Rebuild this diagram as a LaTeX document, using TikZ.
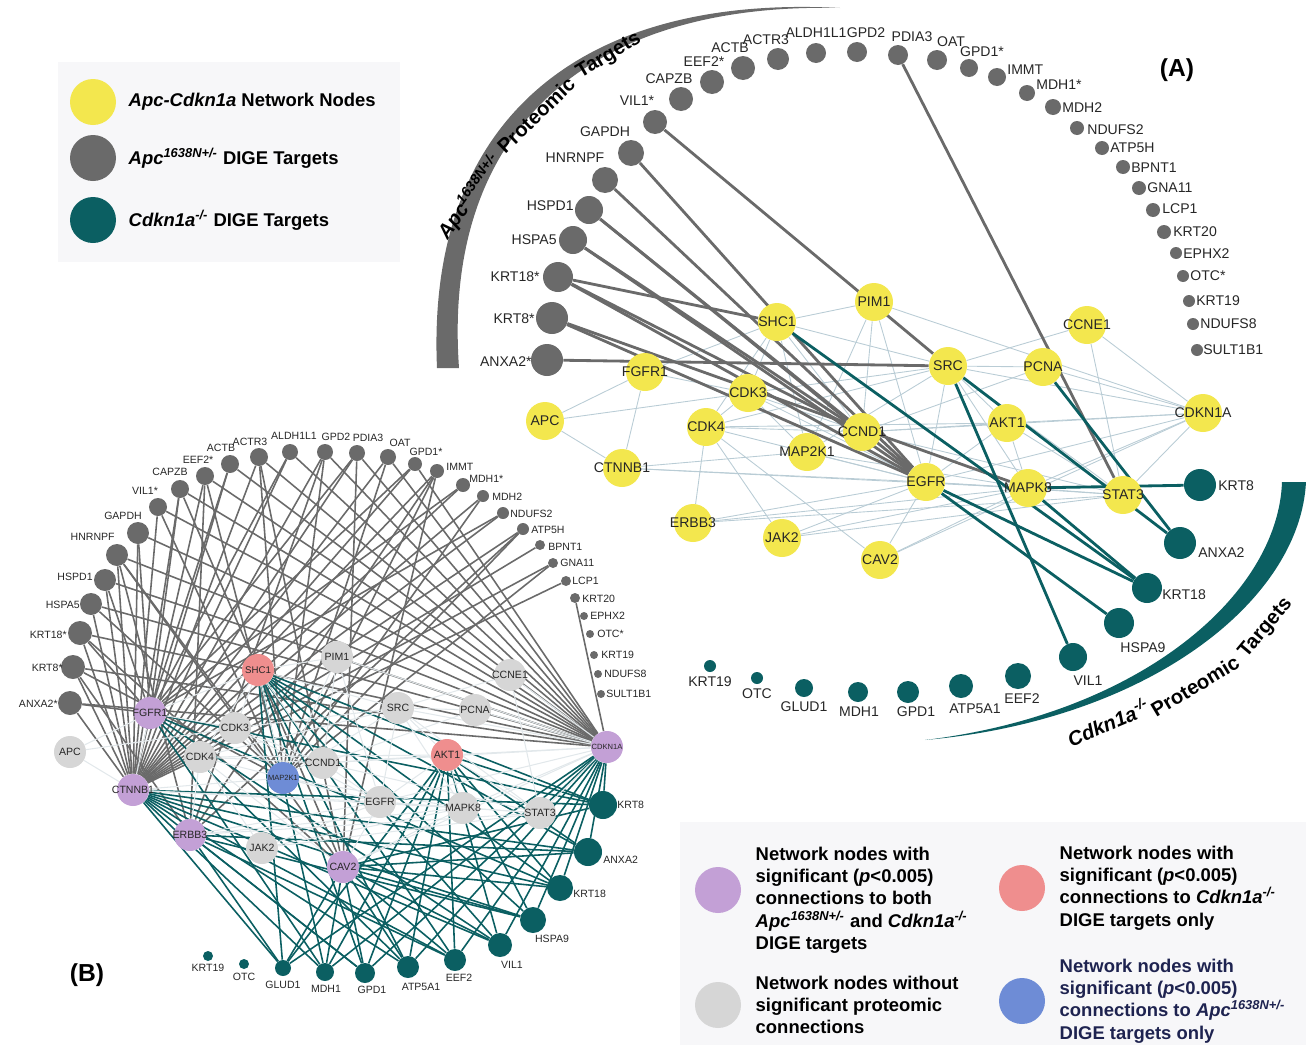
\documentclass[tikz,border=0pt]{standalone}
\usepackage{fontspec}
\setmainfont{Liberation Sans}
\usetikzlibrary{positioning}

\definecolor{netyellow}{HTML}{F3E74E}
\definecolor{tgtgray}{HTML}{6A6A6A}
\definecolor{tgtteal}{HTML}{0B5F62}
\definecolor{netedge}{HTML}{B9CCD5}
\definecolor{paleedge}{HTML}{E2E8EB}
\definecolor{nodepurple}{HTML}{C3A0D6}
\definecolor{nodepink}{HTML}{EF8E8E}
\definecolor{nodegray}{HTML}{D6D6D6}
\definecolor{nodeblue}{HTML}{6E8CD6}
\definecolor{panelbg}{HTML}{F7F7F9}
\definecolor{navytext}{HTML}{1E2350}

\pgfdeclarelayer{back}
\pgfdeclarelayer{edges}
\pgfsetlayers{back,edges,main}

\tikzset{
  blob/.style={circle, inner sep=0pt, minimum size={2*#1*0.02cm}},
  gdot/.style={blob=#1, fill=tgtgray},
  tdot/.style={blob=#1, fill=tgtteal},
  ynode/.style={blob=19, fill=netyellow},
  ylab/.style={font=\fontsize{8}{9}\selectfont, text=black!85, inner sep=0pt},
  glab/.style={font=\fontsize{8}{9}\selectfont, text=black!85, inner sep=0pt},
  blab/.style={font=\fontsize{6}{7}\selectfont, text=black!85, inner sep=0pt},
  gline/.style={draw=tgtgray, line width=1.6pt},
  tline/.style={draw=tgtteal, line width=1.6pt},
  nline/.style={draw=netedge, line width=0.5pt},
  gthin/.style={draw=tgtgray, line width=0.9pt},
  tthin/.style={draw=tgtteal, line width=0.9pt},
  bline/.style={draw=paleedge, line width=0.6pt},
  legtext/.style={font=\fontsize{10.5}{12}\selectfont\bfseries, inner sep=0pt},
  legnote/.style={font=\fontsize{10.5}{12.7}\selectfont\bfseries, align=left, inner sep=0pt},
  arctext/.style={font=\fontsize{11.5}{13}\selectfont\bfseries, inner sep=0pt},
  panellabel/.style={font=\fontsize{14}{16}\selectfont\bfseries, inner sep=0pt}
}

% network-to-network interactions, used in both panels
\newcommand{\netpairs}{SHC1/PIM1, SHC1/FGFR1, SHC1/CDK3, SHC1/CDK4, SHC1/SRC,
  SHC1/CCND1, SHC1/MAP2K1, PIM1/MAP2K1, PIM1/CDKN1A, PIM1/CCND1, SRC/CCNE1,
  SRC/PCNA, SRC/CDKN1A, SRC/AKT1, SRC/MAPK8, SRC/EGFR, SRC/CDK3, SRC/CDK4,
  SRC/STAT3, CCNE1/CDKN1A, CCNE1/STAT3, PCNA/CDKN1A, PCNA/CCND1, FGFR1/APC,
  FGFR1/CTNNB1, FGFR1/CDK3, APC/CTNNB1, APC/CDK3, CTNNB1/MAP2K1, CTNNB1/EGFR,
  CTNNB1/MAPK8, CDK4/CDK3, CDK4/ERBB3, CDK4/JAK2, CDK4/CAV2, CDK4/EGFR,
  CDK4/CCND1, CDK4/AKT1, CDK3/MAP2K1, CDK3/CCND1, CDK3/EGFR, CCND1/CDKN1A,
  CCND1/EGFR, CCND1/STAT3, CCND1/AKT1, MAP2K1/EGFR, MAP2K1/MAPK8, MAP2K1/SRC,
  ERBB3/EGFR, ERBB3/MAPK8, ERBB3/STAT3, JAK2/EGFR, JAK2/STAT3, JAK2/MAPK8,
  CAV2/EGFR, CAV2/CDKN1A, CAV2/MAPK8, EGFR/AKT1, EGFR/MAPK8, EGFR/STAT3,
  EGFR/CDKN1A, EGFR/PIM1, AKT1/CDKN1A, AKT1/MAPK8, AKT1/STAT3, MAPK8/STAT3,
  MAPK8/CDKN1A, STAT3/CDKN1A}

\begin{document}
\begin{tikzpicture}[x=0.02cm, y=-0.02cm]
  \useasboundingbox (0,0) rectangle (1306,1045);

  % Legend boxes
  \begin{pgfonlayer}{back}
    \fill[panelbg] (58,62) rectangle (400,262);
    \fill[panelbg] (680,822) rectangle (1306,1045);
  \end{pgfonlayer}

  % ---------------- Panel A ----------------
  % Proteomic target arcs
  \fill[tgtgray] (437,368) .. controls (426,120) and (580,-6) .. (840,8)
    .. controls (590,2) and (442,128) .. (459,368) -- cycle;
  \fill[tgtteal] (1306,482) .. controls (1300,600) and (1150,720) .. (925,740)
    .. controls (1140,714) and (1278,595) .. (1282,482) -- cycle;
  \node[arctext, rotate=55] (arcA1) at (470,197) {\textit{Apc}\textsuperscript{\itshape 1638N+/-}};
  \node[arctext, rotate=44] (arcA2) at (536,115) {Proteomic};
  \node[arctext, rotate=31] (arcA3) at (609,56) {Targets};
  \node[arctext, rotate=23] (arcA4) at (1108,722) {\textit{Cdkn1a}\textsuperscript{\itshape -/-}};
  \node[arctext, rotate=31] (arcA5) at (1195,686) {Proteomic};
  \node[arctext, rotate=50] (arcA6) at (1266,628) {Targets};

  % Network nodes
  \foreach \n/\x/\y in {SHC1/777/322, PIM1/874/302, SRC/948/366, PCNA/1043/367,
      CCNE1/1087/325, FGFR1/645/372, CDK3/748/393, APC/545/421, CDK4/706/427,
      CCND1/862/432, MAP2K1/807/452, CTNNB1/622/468, EGFR/926/482, AKT1/1007/423,
      CDKN1A/1203/413, MAPK8/1028/488, STAT3/1123/495, ERBB3/693/523,
      JAK2/782/538, CAV2/880/560} {
    \node[ynode, label={[ylab]center:\n}] (a\n) at (\x,\y) {};
  }

  % Apc targets
  \foreach \i/\x/\y/\r in {1/547/360/16, 2/552/318/16, 3/558/277/15, 4/573/240/14,
      5/589/210/14, 6/605/180/13, 7/631/153/13, 8/655/122/12, 9/681/99/12,
      10/712/82/12, 11/743/68/12, 12/778/59/11, 13/816/53/10, 14/857/52/10,
      15/898/55/10, 16/937/60/10, 17/969/68/9, 18/997/77/9, 19/1027/93/8,
      20/1053/107/8, 21/1077/128/7, 22/1102/148/7, 23/1123/167/7, 24/1139/188/7,
      25/1153/210/7, 26/1164/232/7, 27/1176/253/6, 28/1183/276/6, 29/1189/301/6,
      30/1193/324/6, 31/1197/350/6} {
    \node[gdot=\r] (ga\i) at (\x,\y) {};
  }
  \foreach \i/\t/\x/\y/\a in {1/ANXA2*/532/362/east, 2/KRT8*/535/319/east,
      3/KRT18*/540/277/east, 4/HSPA5/557/240/east, 5/HSPD1/574/206/east,
      6/HNRNPF/575/158/center, 7/GAPDH/605/132/center, 8/VIL1*/637/101/center,
      9/CAPZB/669/79/center, 10/EEF2*/704/62/center, 11/ACTB/730/48/center,
      12/ACTR3/766/40/center, 13/ALDH1L1/816/33/center, 14/GPD2/866/33/center,
      15/PDIA3/912/37/center, 16/OAT/951/42/center, 17/GPD1*/982/52/center,
      18/IMMT/1007/70/west, 19/MDH1*/1036/85/west, 20/MDH2/1062/108/west,
      21/NDUFS2/1087/130/west, 22/ATP5H/1110/148/west, 23/BPNT1/1131/168/west,
      24/GNA11/1147/188/west, 25/LCP1/1162/209/west, 26/KRT20/1173/232/west,
      27/EPHX2/1183/254/west, 28/OTC*/1190/276/west, 29/KRT19/1196/301/west,
      30/NDUFS8/1200/324/west, 31/SULT1B1/1203/350/west} {
    \node[glab, anchor=\a] (ga\i-t) at (\x,\y) {\t};
  }

  % Cdkn1a targets
  \foreach \i/\x/\y/\r in {1/1200/485/16, 2/1180/543/16, 3/1147/588/15,
      4/1119/623/15, 5/1073/657/14, 6/1018/676/13, 7/961/686/12, 8/908/692/11,
      9/858/692/10, 10/804/688/9, 11/757/678/6, 12/710/666/6} {
    \node[tdot=\r] (ta\i) at (\x,\y) {};
  }
  \foreach \i/\t/\x/\y/\a in {1/KRT8/1218/486/west, 2/ANXA2/1198/553/west,
      3/KRT18/1162/595/west, 4/HSPA9/1143/648/center, 5/VIL1/1088/681/center,
      6/EEF2/1022/699/center, 7/ATP5A1/975/709/center, 8/GPD1/916/712/center,
      9/MDH1/859/712/center, 10/GLUD1/804/707/center, 11/OTC/757/694/center,
      12/KRT19/710/682/center} {
    \node[glab, anchor=\a] (ta\i-t) at (\x,\y) {\t};
  }

  % Interactions
  \begin{pgfonlayer}{edges}
    \foreach \u/\v in \netpairs { \draw[nline] (a\u) -- (a\v); }
    \foreach \i/\n in {1/SRC, 2/MAPK8, 2/EGFR, 3/SHC1, 3/CCND1, 3/EGFR, 4/CCND1,
        4/EGFR, 5/CCND1, 5/EGFR, 6/EGFR, 7/EGFR, 8/SRC, 15/STAT3} {
      \draw[gline] (ga\i) -- (a\n);
    }
    \foreach \n/\i in {MAPK8/1, SRC/2, PCNA/2, SHC1/3, EGFR/3, MAPK8/3, EGFR/4, SRC/5} {
      \draw[tline] (a\n) -- (ta\i);
    }
  \end{pgfonlayer}

  \node[panellabel] (labA) at (1177,70) {(A)};

  % ---------------- Panel B ----------------
  \foreach \n/\x/\y/\c/\f in {SHC1/258/670/pink/5.5, PIM1/337/657/gray/6,
      CCNE1/510/675/gray/6, SRC/398/708/gray/6, PCNA/475/710/gray/6,
      FGFR1/150/713/purple/6, CDK3/235/728/gray/6, APC/70/752/gray/6,
      CDK4/200/757/gray/6, MAP2K1/283/778/blue/4.3, CCND1/323/763/gray/6,
      CTNNB1/133/790/purple/6, ERBB3/190/835/purple/6, JAK2/262/848/gray/6,
      CAV2/343/867/purple/6, AKT1/447/755/pink/6, CDKN1A/607/747/purple/4.3,
      EGFR/380/802/gray/6, MAPK8/463/808/gray/6, STAT3/540/813/gray/6} {
    \node[blob=16, fill=node\c, label={[blab, font=\fontsize{\f}{\f}\selectfont]center:\n}] (b\n) at (\x,\y) {};
  }

  \foreach \i/\x/\y/\r in {1/70/703/12, 2/73/667/12, 3/80/633/12, 4/91/604/11,
      5/105/580/11, 6/117/555/11, 7/138/533/11, 8/158/507/9, 9/180/489/9,
      10/205/476/9, 11/230/464/9, 12/259/457/9, 13/290/452/8, 14/325/452/8,
      15/357/453/8, 16/388/457/8, 17/415/464/7, 18/437/471/7, 19/463/485/7,
      20/483/496/6, 21/503/513/6, 22/523/529/6, 23/540/545/5, 24/553/563/5,
      25/566/581/5, 26/575/598/5, 27/584/616/4, 28/590/634/4, 29/594/655/4,
      30/598/674/4, 31/601/694/4} {
    \node[gdot=\r] (gb\i) at (\x,\y) {};
  }
  \foreach \i/\t/\x/\y/\a in {1/ANXA2*/58/704/east, 2/KRT8*/63/668/east,
      3/KRT18*/67/635/east, 4/HSPA5/80/605/east, 5/HSPD1/93/577/east,
      6/HNRNPF/115/537/east, 7/GAPDH/123/516/center, 8/VIL1*/145/491/center,
      9/CAPZB/170/472/center, 10/EEF2*/198/460/center, 11/ACTB/221/448/center,
      12/ACTR3/250/442/center, 13/ALDH1L1/294/436/center, 14/GPD2/336/437/center,
      15/PDIA3/368/438/center, 16/OAT/400/443/center, 17/GPD1*/426/452/center,
      18/IMMT/446/467/west, 19/MDH1*/469/479/west, 20/MDH2/492/497/west,
      21/NDUFS2/510/514/west, 22/ATP5H/531/530/west, 23/BPNT1/548/547/west,
      24/GNA11/560/563/west, 25/LCP1/572/581/west, 26/KRT20/582/599/west,
      27/EPHX2/590/616/west, 28/OTC*/597/634/west, 29/KRT19/601/655/west,
      30/NDUFS8/604/674/west, 31/SULT1B1/606/694/west} {
    \node[blab, anchor=\a] (gb\i-t) at (\x,\y) {\t};
  }

  \foreach \i/\x/\y/\r in {1/603/805/14, 2/588/852/14, 3/560/888/13, 4/533/920/13,
      5/500/945/12, 6/455/960/11, 7/408/967/11, 8/365/973/10, 9/325/972/9,
      10/283/968/8, 11/244/964/5, 12/208/956/5} {
    \node[tdot=\r] (tb\i) at (\x,\y) {};
  }
  \foreach \i/\t/\x/\y/\a in {1/KRT8/617/805/west, 2/ANXA2/603/860/west,
      3/KRT18/573/894/west, 4/HSPA9/552/939/center, 5/VIL1/512/965/center,
      6/EEF2/459/978/center, 7/ATP5A1/421/987/center, 8/GPD1/372/990/center,
      9/MDH1/326/989/center, 10/GLUD1/283/985/center, 11/OTC/244/977/center,
      12/KRT19/208/968/center} {
    \node[blab, anchor=\a] (tb\i-t) at (\x,\y) {\t};
  }

  % Significant connections
  \begin{pgfonlayer}{edges}
    \foreach \i in {1,...,25} { \draw[gthin] (gb\i) -- (bCTNNB1); }
    \foreach \i in {1,...,17,26} { \draw[gthin] (gb\i) -- (bCDKN1A); }
    \foreach \i in {1,3,...,21} { \draw[gthin] (gb\i) -- (bFGFR1); }
    \foreach \i in {2,4,...,24} { \draw[gthin] (gb\i) -- (bMAP2K1); }
    \foreach \i in {3,6,...,18} { \draw[gthin] (gb\i) -- (bCAV2); }
    \foreach \i in {2,6,...,22} { \draw[gthin] (gb\i) -- (bERBB3); }
    \foreach \i in {1,...,10} {
      \foreach \n in {SHC1, AKT1, CDKN1A, CTNNB1, CAV2} { \draw[tthin] (tb\i) -- (b\n); }
    }
    \foreach \i in {1,3,...,9} { \draw[tthin] (tb\i) -- (bFGFR1); }
    \foreach \i in {2,4,...,10} { \draw[tthin] (tb\i) -- (bERBB3); }
    \foreach \u/\v in \netpairs { \draw[bline] (b\u) -- (b\v); }
  \end{pgfonlayer}

  \node[panellabel] (labB) at (87,975) {(B)};

  % ---------------- Legends ----------------
  \node[blob=23, fill=netyellow] (legY) at (93,102) {};
  \node[blob=23, fill=tgtgray] (legG) at (93,158) {};
  \node[blob=23, fill=tgtteal] (legT) at (93,220) {};
  \node[legtext, right=0.24cm of legY] (legY-t) {\textit{Apc-Cdkn1a} Network Nodes};
  \node[legtext, right=0.24cm of legG] (legG-t) {\textit{Apc}\textsuperscript{\itshape 1638N+/-} DIGE Targets};
  \node[legtext, right=0.24cm of legT] (legT-t) {\textit{Cdkn1a}\textsuperscript{\itshape -/-} DIGE Targets};

  \node[blob=23, fill=nodepurple] (legP) at (718,890) {};
  \node[blob=23, fill=nodepink] (legR) at (1022,888) {};
  \node[blob=23, fill=nodegray] (legN) at (718,1005) {};
  \node[blob=23, fill=nodeblue] (legB) at (1022,1001) {};
  \node[legnote, right=0.28cm of legP, yshift=-0.2cm] (legP-t) {Network nodes with\\
    significant (\textit{p}<0.005)\\ connections to both\\
    \textit{Apc}\textsuperscript{\itshape 1638N+/-} and \textit{Cdkn1a}\textsuperscript{\itshape -/-}\\ DIGE targets};
  \node[legnote, right=0.28cm of legR] (legR-t) {Network nodes with\\
    significant (\textit{p}<0.005)\\ connections to \textit{Cdkn1a}\textsuperscript{\itshape -/-}\\ DIGE targets only};
  \node[legnote, right=0.28cm of legN] (legN-t) {Network nodes without\\
    significant proteomic\\ connections};
  \node[legnote, text=navytext, right=0.28cm of legB] (legB-t) {Network nodes with\\
    significant (\textit{p}<0.005)\\ connections to \textit{Apc}\textsuperscript{\itshape 1638N+/-}\\ DIGE targets only};
\end{tikzpicture}
\end{document}
